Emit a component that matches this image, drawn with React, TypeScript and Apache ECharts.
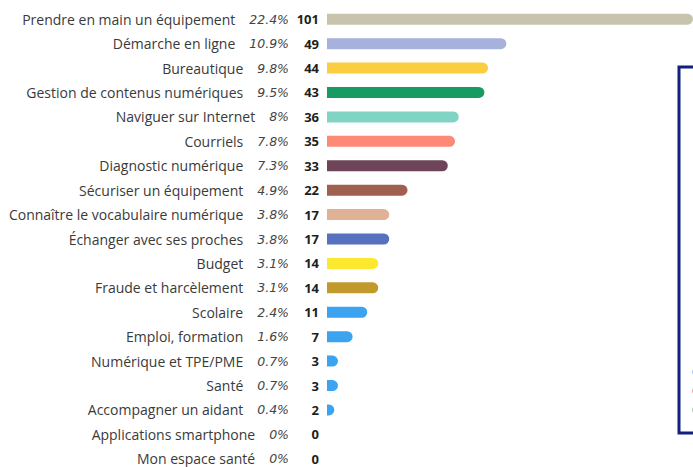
import React, { useEffect, useRef } from "react";
import * as echarts from "echarts";

const categories = [
  "Prendre en main un équipement",
  "Démarche en ligne",
  "Bureautique",
  "Gestion de contenus numériques",
  "Naviguer sur Internet",
  "Courriels",
  "Diagnostic numérique",
  "Sécuriser un équipement",
  "Connaître le vocabulaire numérique",
  "Échanger avec ses proches",
  "Budget",
  "Fraude et harcèlement",
  "Scolaire",
  "Emploi, formation",
  "Numérique et TPE/PME",
  "Santé",
  "Accompagner un aidant",
  "Applications smartphone",
  "Mon espace santé",
];

const counts = [101, 49, 44, 43, 36, 35, 33, 22, 17, 17, 14, 14, 11, 7, 3, 3, 2, 0, 0];

const percents = [
  "22.4%", "10.9%", "9.8%", "9.5%", "8%", "7.8%", "7.3%", "4.9%", "3.8%", "3.8%",
  "3.1%", "3.1%", "2.4%", "1.6%", "0.7%", "0.7%", "0.4%", "0%", "0%",
];

const colors = [
  "#c8c3ad", "#a6b1dc", "#fbcd41", "#179b62", "#81d4c4", "#fc8a77", "#6e4458",
  "#a0604f", "#e1b196", "#5571c0", "#fde830", "#c29a2c", "#3ba3f0", "#3ba3f0",
  "#3ba3f0", "#3ba3f0", "#3ba3f0", "#3ba3f0", "#3ba3f0",
];

export default function App() {
  const ref = useRef<HTMLDivElement>(null);
  useEffect(() => {
    const chart = echarts.init(ref.current!, undefined, { renderer: "svg" });
    const font = "'Open Sans', 'Noto Sans', sans-serif";
    chart.setOption({
      animation: false,
      textStyle: { fontFamily: font },
      grid: { left: 327, top: 7, width: 366, height: 464, containLabel: false },
      xAxis: {
        type: "value",
        min: 0,
        max: 100,
        show: false,
      },
      yAxis: {
        type: "category",
        inverse: true,
        data: categories,
        axisLine: { show: false },
        axisTick: { show: false },
        splitLine: { show: false },
        axisLabel: {
          margin: 8,
          interval: 0,
          formatter: (v: string, i: number) =>
            `{n|${v}}{p|${percents[i]}}{c|${counts[i]}}`,
          rich: {
            n: { fontSize: 14, color: "#3a3a3a", fontFamily: font },
            p: {
              fontSize: 12.5,
              color: "#444444",
              fontStyle: "italic",
              fontFamily: "'DejaVu Sans', sans-serif",
              padding: [0, 0, 0, 14],
            },
            c: {
              fontSize: 13,
              color: "#1e1e1e",
              fontWeight: "bold",
              fontFamily: font,
              width: 30,
              align: "right",
            },
          },
        },
      },
      series: [
        {
          type: "bar",
          data: counts.map((v, i) => ({ value: v, itemStyle: { color: colors[i] } })),
          barWidth: 11,
          clip: true,
          itemStyle: { borderRadius: [0, 5.5, 5.5, 0] },
        },
      ],
      graphic: [
        {
          type: "rect",
          shape: { x: 679, y: 67, width: 40, height: 366 },
          style: { fill: "#ffffff", stroke: "#12217f", lineWidth: 3 },
          z: 10,
        },
        {
          type: "circle",
          shape: { cx: 696, cy: 372, r: 4 },
          style: { fill: "#b4d2f2" },
          z: 11,
        },
        {
          type: "circle",
          shape: { cx: 696, cy: 391, r: 4 },
          style: { fill: "#e0b4a6" },
          z: 11,
        },
        {
          type: "circle",
          shape: { cx: 696, cy: 410, r: 4 },
          style: { fill: "#bccab6" },
          z: 11,
        },
      ],
    });
    return () => chart.dispose();
  }, []);
  return (
    <div
      ref={ref}
      style={{ position: "fixed", left: 0, top: 0, width: 693, height: 490, background: "#fff" }}
    />
  );
}
